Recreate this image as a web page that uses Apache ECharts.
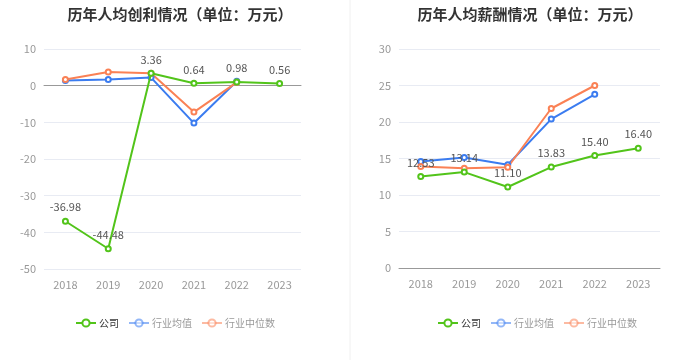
<!DOCTYPE html>
<html><head><meta charset="utf-8">
<script src="https://cdn.jsdelivr.net/npm/echarts@6/dist/echarts.min.js"></script>
<style>html,body{margin:0;padding:0;background:#fff}#c{width:700px;height:360px}</style>
</head><body><div id="c"></div>
<script>
var years = ['2018','2019','2020','2021','2022','2023'];
var profitCompany = [-36.98, -44.48, 3.36, 0.64, 0.98, 0.56];
var profitIndustryAvg = [1.4, 1.7, 2.2, -10.2, 1.2, null];
var profitIndustryMedian = [1.7, 3.7, 3.4, -7.2, 0.9, null];
var salaryCompany = [12.53, 13.14, 11.10, 13.83, 15.40, 16.40];
var salaryIndustryAvg = [14.6, 15.15, 14.15, 20.4, 23.8, null];
var salaryIndustryMedian = [13.9, 13.65, 13.8, 21.85, 25.0, null];
var profitTicks = [-50, 10, 10];
var salaryTicks = [0, 30, 5];

var C_GREEN = '#52c41a', C_BLUE = '#3b7cf0', C_ORANGE = '#fa8155';
var font = '"Noto Sans CJK SC", "Noto Sans", sans-serif';

function mkSeries(name, data, color, xi, withLabel) {
  return {
    name: name, type: 'line', data: data, xAxisIndex: xi, yAxisIndex: xi,
    symbol: 'emptyCircle', symbolSize: 5, connectNulls: false,
    lineStyle: {width: 2, color: color}, itemStyle: {color: color, borderWidth: 1.5},
    label: withLabel ? {show: true, position: 'top', color: '#555', fontSize: 11, fontFamily: font,
      formatter: function(p){ return p.value.toFixed(2); }} : {show: false},
    z: withLabel ? 3 : 2
  };
}
function mkLegend(left) {
  return {
    left: left, top: 313, itemWidth: 20, itemHeight: 9, itemGap: 9,
    textStyle: {fontSize: 10, color: '#999', fontFamily: font, padding: [0, 0, 0, -2]},
    data: [
      {name: '公司', textStyle: {color: '#333'}},
      {name: '行业均值', itemStyle: {opacity: 0.55}, lineStyle: {opacity: 0.55}},
      {name: '行业中位数', itemStyle: {opacity: 0.55}, lineStyle: {opacity: 0.55}}
    ]
  };
}
function mkX(gi) {
  return {
    type: 'category', gridIndex: gi, data: years, boundaryGap: true,
    axisLine: {onZero: true, lineStyle: {color: '#999'}},
    axisTick: {alignWithLabel: true, lineStyle: {color: '#999'}},
    axisLabel: {color: '#999', fontSize: 11, fontFamily: font, margin: 10}
  };
}
function mkY(gi, t) {
  return {
    type: 'value', gridIndex: gi, min: t[0], max: t[1], interval: t[2],
    axisLine: {show: false}, axisTick: {show: false},
    axisLabel: {color: '#999', fontSize: 11, fontFamily: font, margin: 8},
    splitLine: {lineStyle: {color: '#e8ebf3'}}
  };
}

var chart = echarts.init(document.getElementById('c'));
chart.setOption({
  animation: false,
  title: [
    {text: '历年人均创利情况（单位：万元）', left: 175, textAlign: 'center', top: 2,
     textStyle: {fontSize: 15, fontWeight: 'bold', color: '#333', fontFamily: font}},
    {text: '历年人均薪酬情况（单位：万元）', left: 525, textAlign: 'center', top: 2,
     textStyle: {fontSize: 15, fontWeight: 'bold', color: '#333', fontFamily: font}}
  ],
  legend: [mkLegend(70), mkLegend(432)],
  grid: [
    {left: 44, right: 399, top: 49, bottom: 91},
    {left: 399, right: 40, top: 49, bottom: 92}
  ],
  xAxis: [mkX(0), mkX(1)],
  yAxis: [mkY(0, profitTicks), mkY(1, salaryTicks)],
  graphic: [{type: 'line', shape: {x1: 350, y1: 0, x2: 350, y2: 360}, style: {stroke: '#f0f0f0', lineWidth: 1}}],
  series: [
    mkSeries('行业均值', profitIndustryAvg, C_BLUE, 0, false),
    mkSeries('行业中位数', profitIndustryMedian, C_ORANGE, 0, false),
    mkSeries('公司', profitCompany, C_GREEN, 0, true),
    mkSeries('行业均值', salaryIndustryAvg, C_BLUE, 1, false),
    mkSeries('行业中位数', salaryIndustryMedian, C_ORANGE, 1, false),
    mkSeries('公司', salaryCompany, C_GREEN, 1, true)
  ]
});
</script></body></html>
